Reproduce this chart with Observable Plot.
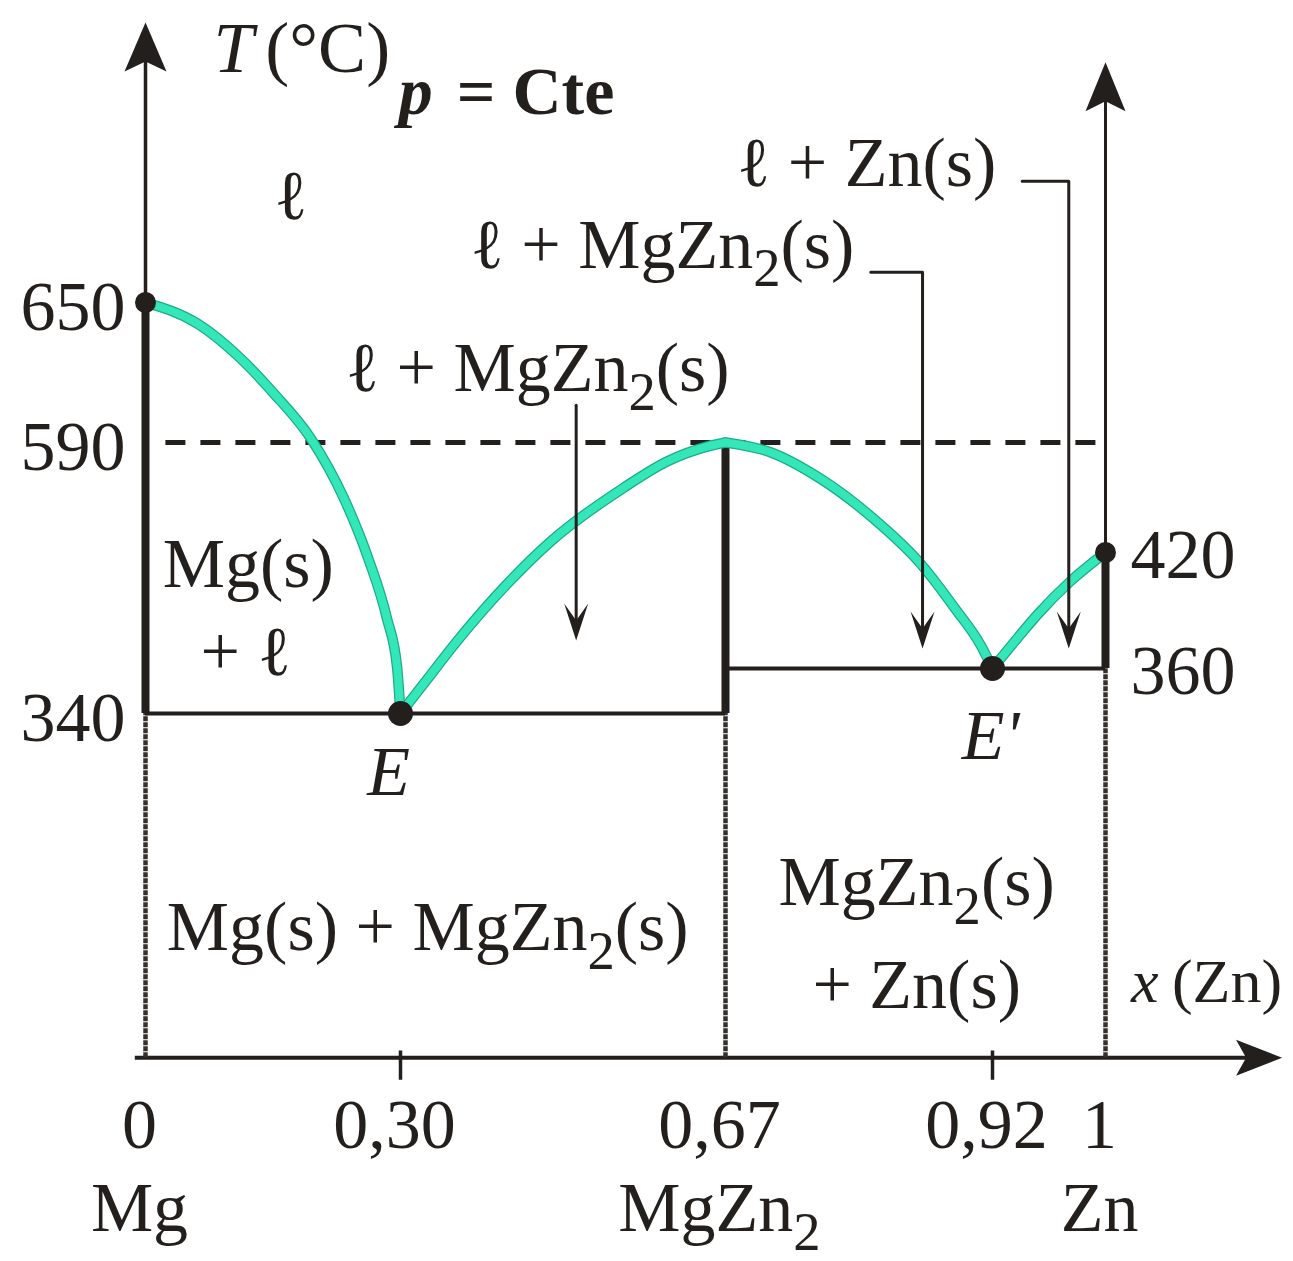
<!DOCTYPE html>
<html>
<head>
<meta charset="utf-8">
<script src="https://cdn.jsdelivr.net/npm/d3@7"></script>
<script src="https://cdn.jsdelivr.net/npm/@observablehq/plot@0.6"></script>
<style>
  html, body { margin: 0; padding: 0; background: #fff; }
  svg { display: block; }
</style>
</head>
<body>
<div id="chart"></div>
<script>
// Mg–Zn binary phase diagram at constant pressure, x = mole fraction of Zn.

// ---- axis values ----
const ticksX = [0, 0.30, 0.67, 0.92, 1];
const ticksXText = ["0", "0,30", "0,67", "0,92", "1"];
const components = ["Mg", "MgZn₂", "Zn"];
const componentsX = [0, 0.67, 1];
const tempsLeft = [650, 590, 340];
const tempsRight = [420, 360];

// ---- invariant points ----
const meltX = [0, 1];            // pure Mg, pure Zn
const meltT = [650, 420];
const compoundX = 0.67;          // MgZn2, congruent melting
const compoundT = 590;
const eutecticNames = ["E", "E'"];
const eutecticX = [0.30, 0.92];
const eutecticT = [340, 360];

// ---- liquidus branches [x(Zn), T (°C)] ----
const liquidusMg = [[0, 650], [0.061, 641], [0.112, 626], [0.151, 611], [0.194, 592], [0.233, 505], [0.262, 417], [0.284, 386], [0.296, 360.5], [0.30, 340]];
const liquidusMgZn2Left = [[0.30, 340], [0.326, 353], [0.365, 374.5], [0.422, 404], [0.471, 437], [0.554, 520], [0.604, 561], [0.650, 584], [0.67, 590]];
const liquidusMgZn2Right = [[0.67, 590], [0.712, 575], [0.759, 534], [0.806, 476], [0.853, 414], [0.885, 391], [0.909, 372], [0.92, 360]];
const liquidusZn = [[0.92, 360], [0.938, 376], [0.952, 388], [0.975, 405], [1, 420]];

// ---- axis extents (data units) ----
const axisT = 187;       // temperature level of the composition axis
const leftTopT = 770;    // tip of the temperature arrow
const rightTopT = 753;   // tip of the pure-Zn arrow
const axisEndX = 1.125;  // tip of the composition arrow

// ---- region labels ----
const regionText = ["ℓ", "Mg(s)", "+ ℓ", "ℓ + MgZn₂(s)", "ℓ + MgZn₂(s)", "ℓ + Zn(s)", "Mg(s) + MgZn₂(s)", "MgZn₂(s)", "+ Zn(s)"];
const regionX = [0.171, 0.121, 0.118, 0.456, 0.598, 0.802, 0.331, 0.849, 0.849];
const regionT = [686, 402, 357, 612, 665, 700, 235, 255, 209];
const eutecticLabelT = [304, 320];
const eutecticLabelDx = [-12, -2];

// leader arrows from two-phase labels into their regions
const leaders = [
  [[0.50, 606], [0.50, 382]],
  [[0.806, 663], [0.8545, 663], [0.8545, 380]],
  [[0.941, 702], [0.974, 702], [0.974, 380]]
];
const leaderTips = [[0.50, 374.5], [0.8545, 370.3], [0.974, 370.3]];

// ---- styling ----
const ink = "#231f1d";
const liquid = "#33e7b8";
const liquidEdge = "#1eac88";
const serif = "Liberation Serif";
const fs = 70;

// filled dart arrowhead; angle 0 points up, tip at the anchor point
function dart(len, half, notch, angle) {
  const a = angle * Math.PI / 180, c = Math.cos(a), s = Math.sin(a);
  const pts = [[0, 0], [-half, len], [0, notch], [half, len]];
  return {
    draw(ctx) {
      pts.forEach(([px, py], i) => {
        const x = px * c - py * s, y = px * s + py * c;
        i ? ctx.lineTo(x, y) : ctx.moveTo(x, y);
      });
      ctx.closePath();
    }
  };
}

const solidVerticals = [
  {x: 0, lo: eutecticT[0], hi: meltT[0]},
  {x: compoundX, lo: eutecticT[0], hi: compoundT},
  {x: 1, lo: eutecticT[1], hi: meltT[1]}
];
const eutecticLines = [
  {T: eutecticT[0], x1: 0, x2: compoundX},
  {T: eutecticT[1], x1: compoundX, x2: 1}
];
const dropLines = [
  {x: 0, T: eutecticT[0]},
  {x: compoundX, T: eutecticT[0]},
  {x: 1, T: eutecticT[1]}
];
const meltPoints = meltX.map((x, i) => ({x, T: meltT[i]}));
const eutectics = eutecticX.map((x, i) => ({x, T: eutecticT[i], name: eutecticNames[i]}));
const branches = [liquidusMg, liquidusMgZn2Left, liquidusMgZn2Right, liquidusZn];

const txt = (data, opts) => Plot.text(data, {fontFamily: serif, fontSize: fs, fill: ink, lineAnchor: "bottom", ...opts});

const chart = Plot.plot({
  width: 1293,
  height: 1261,
  margin: 0,
  style: {fontFamily: serif, fontSize: `${fs}px`, background: "#fff", color: ink, overflow: "visible"},
  x: {type: "linear", domain: [0, 0.30, 0.67, 0.92, 1], range: [145, 400, 725, 992, 1105], axis: null},
  y: {type: "linear", domain: [340, 360, 420, 590, 650], range: [713, 668, 552, 442, 302], axis: null},
  marks: [
    // axes
    Plot.ruleX([0], {y1: meltT[0], y2: leftTopT - 9, stroke: ink, strokeWidth: 3.5}),
    Plot.ruleX([1], {y1: meltT[1], y2: rightTopT - 9, stroke: ink, strokeWidth: 3}),
    Plot.ruleY([axisT], {x1: -0.012, x2: axisEndX - 0.02, stroke: ink, strokeWidth: 4}),
    Plot.ruleX([ticksX[1], ticksX[3]], {y1: axisT + 3, y2: axisT - 10, stroke: ink, strokeWidth: 3.5}),
    Plot.dot([[0, leftTopT]], {x: d => d[0], y: d => d[1], symbol: dart(49, 21, 39, 0), fill: ink, stroke: "none"}),
    Plot.dot([[1, rightTopT]], {x: d => d[0], y: d => d[1], symbol: dart(49, 20, 39, 0), fill: ink, stroke: "none"}),
    Plot.dot([[axisEndX, axisT]], {x: d => d[0], y: d => d[1], symbol: dart(46, 18, 36, 90), fill: ink, stroke: "none"}),

    // solid-phase boundaries below the eutectic lines
    Plot.ruleX(dropLines, {x: "x", y1: axisT, y2: "T", stroke: "#34302e", strokeWidth: 4.5, strokeDasharray: "5,1"}),

    // compound melting level
    Plot.ruleY([compoundT], {x1: 0.024, x2: 1, stroke: ink, strokeWidth: 5, strokeDasharray: "20,15"}),

    // eutectic horizontals and solid verticals
    Plot.ruleY(eutecticLines, {y: "T", x1: "x1", x2: "x2", stroke: ink, strokeWidth: 4}),
    Plot.ruleX(solidVerticals, {x: "x", y1: "lo", y2: "hi", stroke: ink, strokeWidth: 8}),

    // liquidus
    ...branches.map(b => Plot.line(b, {x: d => d[0], y: d => d[1], curve: "monotone-x", stroke: liquidEdge, strokeWidth: 10.5})),
    ...branches.map(b => Plot.line(b, {x: d => d[0], y: d => d[1], curve: "monotone-x", stroke: liquid, strokeWidth: 8})),

    // invariant points
    Plot.dot(meltPoints, {x: "x", y: "T", r: 10.5, fill: ink, stroke: "none"}),
    Plot.dot(eutectics, {x: "x", y: "T", r: 12.5, fill: ink, stroke: "none"}),

    // leader arrows
    ...leaders.map(l => Plot.line(l, {x: d => d[0], y: d => d[1], stroke: ink, strokeWidth: 3})),
    Plot.dot(leaderTips, {x: d => d[0], y: d => d[1], symbol: dart(37, 12, 20, 180), fill: ink, stroke: "none"}),

    // axis titles
    txt([0], {x: 0.080, y: 749, text: () => "T", fontStyle: "italic", textAnchor: "start", fontSize: 72}),
    txt([0], {x: 0.141, y: 749, text: () => "(°C)", textAnchor: "start", fontSize: 72}),
    txt([0], {x: 0.298, y: 731, text: () => "p", fontStyle: "italic", fontWeight: "bold", textAnchor: "start", fontSize: 68}),
    txt([0], {x: 0.364, y: 731, text: () => "= Cte", fontWeight: "bold", textAnchor: "start", fontSize: 68}),
    txt([0], {x: 1.018, y: 212, text: () => "x", fontStyle: "italic", textAnchor: "start", fontSize: 62}),
    txt([0], {x: 1.047, y: 212, text: () => "(Zn)", textAnchor: "start", fontSize: 62}),

    // tick labels
    txt(ticksX, {x: d => d, y: 147, text: (d, i) => ticksXText[i], dx: -6}),
    txt(componentsX, {x: d => d, y: 110, text: (d, i) => components[i], dx: -6}),
    txt(tempsLeft, {x: 0, y: d => d, text: d => String(d), textAnchor: "end", lineAnchor: "middle", dx: -20, dy: 5}),
    txt(tempsRight, {x: 1, y: d => d, text: d => String(d), textAnchor: "start", lineAnchor: "middle", dx: 25, dy: 3}),

    // region labels
    txt(regionText, {x: (d, i) => regionX[i], y: (d, i) => regionT[i], text: d => d}),

    // eutectic labels
    ...eutectics.map((e, i) => txt([e], {x: "x", y: () => eutecticLabelT[i], text: "name", fontStyle: "italic", dx: eutecticLabelDx[i]})),
  ]
});

// render "₂" as a true subscript
const NS = "http://www.w3.org/2000/svg";
for (const t of chart.querySelectorAll("text")) {
  const s = t.textContent;
  if (!s.includes("₂")) continue;
  const shift = 0.27 * parseFloat(t.getAttribute("font-size") || fs);
  const parts = s.split("₂");
  t.textContent = "";
  parts.forEach((p, i) => {
    if (i > 0) {
      const sub = document.createElementNS(NS, "tspan");
      sub.setAttribute("font-size", "0.78em");
      sub.setAttribute("dy", shift);
      sub.textContent = "2";
      t.appendChild(sub);
    }
    const tp = document.createElementNS(NS, "tspan");
    if (i > 0) tp.setAttribute("dy", -shift);
    tp.textContent = p;
    t.appendChild(tp);
  });
}

document.getElementById("chart").appendChild(chart);
</script>
</body>
</html>
